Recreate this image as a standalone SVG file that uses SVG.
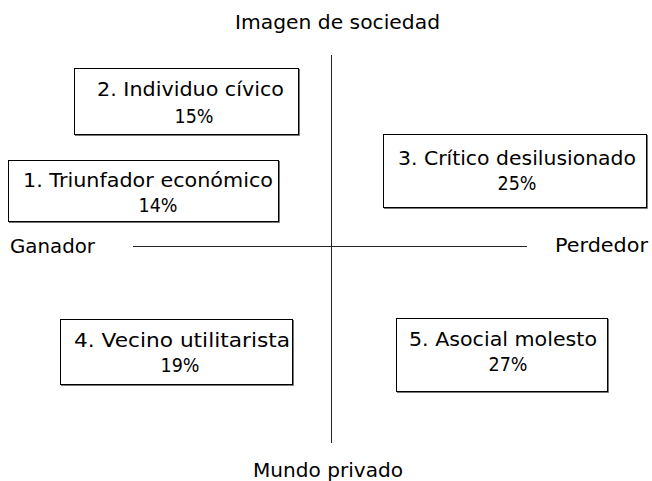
<svg xmlns="http://www.w3.org/2000/svg" width="652" height="481" viewBox="0 0 652 481">
<style>
  text { font-family: "DejaVu Sans", "Liberation Sans", sans-serif; font-size: 19px; fill: #000; }
  .box { fill: #fff; stroke: #000; stroke-width: 1; }
  .shadow { fill: none; stroke: #777; stroke-width: 1; }
  .axis { stroke: #222; stroke-width: 1; fill: none; }
</style>
<rect width="652" height="481" fill="#fff"/>
<g id="connectors">
  <line class="axis" x1="331.5" y1="55" x2="331.5" y2="443"/>
  <line class="axis" x1="133" y1="246.5" x2="527" y2="246.5"/>
</g>
<g id="axis-labels">
  <text x="235" y="29" textLength="205" lengthAdjust="spacingAndGlyphs">Imagen de sociedad</text>
  <text x="10" y="253" textLength="85" lengthAdjust="spacingAndGlyphs">Ganador</text>
  <text x="555" y="252" textLength="93" lengthAdjust="spacingAndGlyphs">Perdedor</text>
  <text x="253" y="477" textLength="150" lengthAdjust="spacingAndGlyphs">Mundo privado</text>
</g>
<g id="node2">
  <polyline class="shadow" points="299.5,69 299.5,135.5 75,135.5"/>
  <rect class="box" x="74.5" y="68.5" width="224" height="66"/>
  <text x="97" y="96" textLength="187" lengthAdjust="spacingAndGlyphs">2. Individuo cívico</text>
  <text x="194" y="123" text-anchor="middle" textLength="39" lengthAdjust="spacingAndGlyphs">15%</text>
</g>
<g id="node1">
  <polyline class="shadow" points="279.5,161 279.5,222.5 9,222.5"/>
  <rect class="box" x="8.5" y="160.5" width="270" height="61"/>
  <text x="23" y="187" textLength="250" lengthAdjust="spacingAndGlyphs">1. Triunfador económico</text>
  <text x="158" y="212" text-anchor="middle" textLength="39" lengthAdjust="spacingAndGlyphs">14%</text>
</g>
<g id="node3">
  <polyline class="shadow" points="647.5,135 647.5,208.5 384,208.5"/>
  <rect class="box" x="383.5" y="134.5" width="263" height="73"/>
  <text x="398" y="165" textLength="238" lengthAdjust="spacingAndGlyphs">3. Crítico desilusionado</text>
  <text x="517" y="190" text-anchor="middle" textLength="39" lengthAdjust="spacingAndGlyphs">25%</text>
</g>
<g id="node4">
  <polyline class="shadow" points="293.5,320 293.5,385.5 61,385.5"/>
  <rect class="box" x="60.5" y="319.5" width="232" height="65"/>
  <text x="74" y="347" textLength="216" lengthAdjust="spacingAndGlyphs">4. Vecino utilitarista</text>
  <text x="180" y="372" text-anchor="middle" textLength="39" lengthAdjust="spacingAndGlyphs">19%</text>
</g>
<g id="node5">
  <polyline class="shadow" points="608.5,319 608.5,392.5 397,392.5"/>
  <rect class="box" x="396.5" y="318.5" width="211" height="73"/>
  <text x="409" y="346" textLength="188" lengthAdjust="spacingAndGlyphs">5. Asocial molesto</text>
  <text x="508" y="371" text-anchor="middle" textLength="39" lengthAdjust="spacingAndGlyphs">27%</text>
</g>
</svg>
